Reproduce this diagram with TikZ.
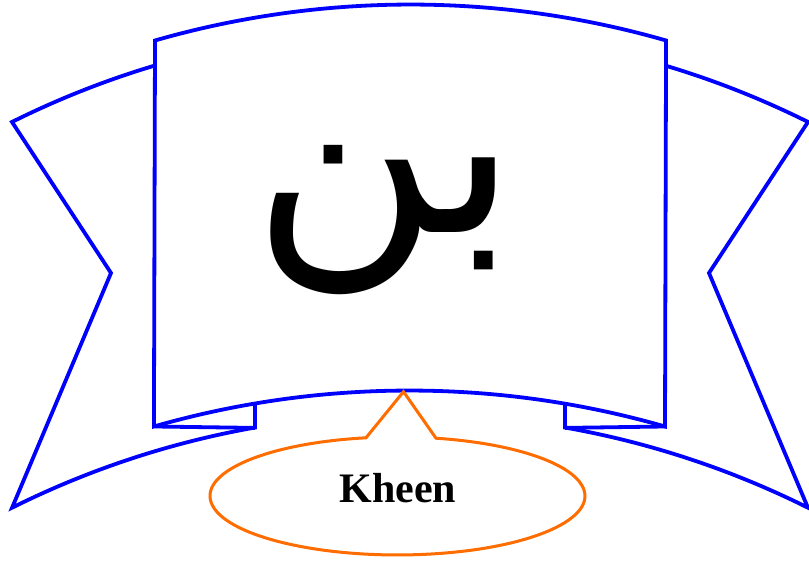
\documentclass[tikz,border=0pt]{standalone}
\usepackage{fontspec}
\newfontfamily\arabicfont[Script=Arabic]{DejaVu Sans}
\newfontfamily\kfont{Liberation Serif}
\TeXXeTstate=1
\definecolor{ribbonblue}{RGB}{0,0,255}
\definecolor{calloutorange}{RGB}{255,108,0}
\tikzset{
  ribbon/.style={draw=ribbonblue, line width=3.8pt},
  callline/.style={draw=calloutorange, line width=3pt},
}
\begin{document}
\begin{tikzpicture}[x=1pt,y=1pt]
\useasboundingbox (0,0) rectangle (809,562);
% named points
\coordinate (ptl) at (155,521.5);
\coordinate (pbr) at (665,135.5);
\coordinate (lw) at (155,496.5);
\coordinate (rw) at (665,496.5);
\coordinate (lin) at (111,289);
\coordinate (rin) at (709,289);
\coordinate (lbt) at (12.1,54.3);
\coordinate (rbt) at (807.9,54.3);
\coordinate (lfu) at (255,158.2);
\coordinate (rfu) at (565,158.2);
\coordinate (lfd) at (255,134.1);
\coordinate (rfd) at (565,134.1);
\coordinate (pbl) at (155,135.5);
% panel
\draw[ribbon] (ptl) arc[start angle=106.02, end angle=73.98, radius=926]
  -- (pbr) arc[start angle=73.98, end angle=106.02, radius=926] -- cycle;
% left wing
\draw[ribbon] (lw) arc[start angle=106.61, end angle=116.5, radius=891.8]
  -- (lin) -- (lbt) arc[start angle=116.5, end angle=100.01, radius=891.8]
  -- (lfu);
\draw[ribbon] (pbl) -- (lfd);
% right wing
\draw[ribbon] (rw) arc[start angle=73.39, end angle=63.5, radius=891.8]
  -- (rin) -- (rbt) arc[start angle=63.5, end angle=79.99, radius=891.8]
  -- (rfu);
\draw[ribbon] (pbr) -- (rfd);
% Arabic title
\node[inner sep=0pt] (title) at (385,341.5) {\fontsize{255}{280}\selectfont\arabicfont\beginR بن\endR};
% callout
\node[inner sep=0pt, anchor=base] (kheen) at (398,59)
  {\fontsize{42}{50}\selectfont\kfont\bfseries Kheen};
\coordinate (cbl) at (366,124.2);
\coordinate (apex) at (403.5,170.3);
\draw[callline] (cbl) arc[start angle=99.67, end angle=438.15, x radius=187.5, y radius=59]
  -- (apex) -- cycle;
\end{tikzpicture}
\end{document}
